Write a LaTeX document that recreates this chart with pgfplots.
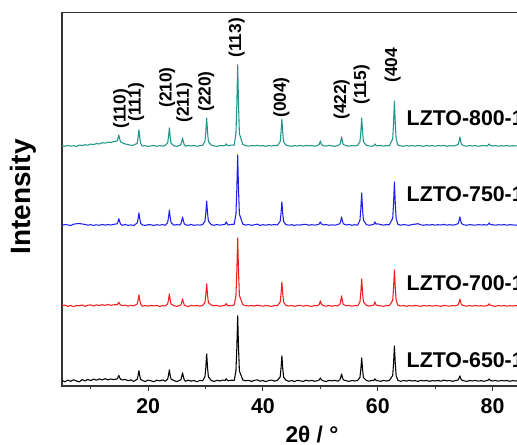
\documentclass[border=0pt]{standalone}
\usepackage{pgfplots}
\pgfplotsset{compat=1.18}
\usepackage{pgfplotstable}
\usepackage{fontspec}
\setmainfont{Liberation Sans}
\definecolor{xrdTeal}{HTML}{1F968C}
\definecolor{xrdBlue}{HTML}{1E1EF0}
\definecolor{xrdRed}{HTML}{F01E1E}
\definecolor{axisGray}{HTML}{333333}
\tikzset{
  hkl/.style={rotate=90,anchor=west,inner sep=0pt,font=\fontsize{13}{15}\selectfont\bfseries},
  lab/.style={anchor=base west,inner sep=0pt,font=\fontsize{16}{18}\selectfont\bfseries},
}

% relative intensities (px above each baseline): k=650, r=700, b=750, t=800
\pgfplotstableread{
x k r b t
5.0 0.5 0.3 -0.2 0.4
5.5 -0.8 0.9 0.4 -0.3
6.0 0.9 -0.4 0.1 0.6
6.5 -0.3 0.6 -0.5 -0.2
7.0 1.2 -0.7 0.8 0.3
7.5 0.1 0.5 1.2 -0.5
8.0 -0.9 0.2 1.5 0.9
8.5 1.4 1.0 1.0 0.4
9.0 0.2 -0.3 0.6 1.3
9.5 1.6 0.8 -0.2 0.8
10.0 0.4 1.1 0.3 1.9
10.5 1.9 0.0 -0.4 1.4
11.0 0.8 1.2 0.2 2.4
11.5 2.1 0.4 -0.3 2.0
12.0 1.0 1.3 0.5 3.3
12.5 2.3 0.6 -0.1 2.8
13.0 1.2 1.5 0.4 3.9
13.5 2.0 0.7 0.0 3.4
14.0 1.4 1.2 0.6 4.5
14.6 2.1 1.3 1.2 5.0
14.75 3.5 2.3 3.3 7.5
14.9 5.5 3.8 6.3 11.0
15.05 3.2 2.1 3.2 7.0
15.2 1.8 1.0 1.0 4.2
15.5 1.0 0.4 -0.3 3.2
16.0 1.6 0.9 0.5 2.0
16.5 0.3 -0.2 -0.4 1.5
17.0 1.1 0.7 0.2 0.6
17.5 -0.4 0.1 -0.6 0.9
18.1 1.8 2.0 2.1 2.7
18.25 5.3 5.8 6.2 8.3
18.4 10.3 11.2 12.1 16.2
18.55 5.0 5.6 6.0 8.0
18.7 1.6 1.9 1.8 2.5
19.0 0.6 -0.3 0.1 -0.2
19.5 -0.5 0.5 -0.4 0.4
20.0 0.9 -0.1 0.3 -0.5
20.5 0.2 0.6 0.2 0.1
21.0 -0.7 0.1 -0.5 0.5
21.5 0.8 0.7 0.3 -0.3
22.0 0.1 -0.5 -0.2 0.4
22.5 1.0 0.4 0.4 -0.1
23.0 -0.2 0.0 -0.3 0.6
23.4 1.8 2.0 2.4 2.9
23.55 5.7 6.2 7.6 9.2
23.7 11.2 12.1 15.0 18.1
23.85 5.4 5.9 7.4 8.8
24.0 1.9 1.9 2.3 2.6
24.5 0.4 0.3 -0.2 0.2
25.0 -0.6 -0.4 0.4 -0.4
25.5 0.7 0.5 -0.1 0.5
25.7 1.2 1.0 1.3 1.4
25.85 4.2 3.6 4.1 4.2
26.0 8.2 7.1 8.0 8.1
26.15 4.0 3.5 4.0 3.9
26.3 1.1 1.0 1.2 1.3
26.5 -0.3 0.2 0.3 -0.2
27.0 0.8 -0.5 -0.3 0.5
27.5 -0.1 0.6 0.5 0.0
28.0 0.5 0.1 -0.4 0.6
28.5 -0.8 0.7 0.2 -0.3
29.0 0.6 -0.2 -0.1 0.3
29.5 0.2 0.5 0.4 0.7
29.9 4.3 3.6 3.9 4.5
30.05 13.6 11.2 12.1 14.2
30.2 27.1 22.2 24.0 28.1
30.35 13.3 11.0 11.9 13.9
30.5 4.1 3.4 3.8 4.4
31.0 0.5 0.9 0.3 0.8
31.5 -0.4 0.2 -0.3 0.1
32.0 0.7 0.6 0.5 -0.4
32.5 0.0 -0.3 -0.2 0.5
33.0 0.9 0.4 0.3 0.2
33.4 0.5 0.6 0.6 0.4
33.6 2.3 2.4 3.2 2.2
33.8 0.7 0.8 0.9 0.6
34.0 0.2 0.2 0.0 0.3
34.5 0.8 0.5 0.6 0.9
35.0 0.6 0.9 0.8 1.0
35.3 10.3 10.8 11.0 12.7
35.45 33.0 34.5 35.5 41.0
35.6 65.2 68.1 70.2 81.3
35.75 32.6 34.0 35.1 40.4
35.9 10.0 10.5 10.8 12.3
36.5 1.0 1.2 0.8 1.4
37.0 0.2 0.4 -0.1 0.5
37.5 0.7 0.0 0.4 -0.2
38.0 -0.4 0.6 -0.3 0.4
38.5 0.6 -0.1 0.2 0.1
39.0 1.2 0.8 0.9 0.7
39.5 -0.2 0.3 -0.4 0.0
40.0 0.5 -0.2 0.3 0.4
40.5 -0.6 0.6 -0.2 -0.3
41.0 0.4 0.1 0.4 0.5
41.5 0.9 -0.4 -0.1 0.0
42.0 -0.1 0.5 0.5 0.6
42.5 0.6 0.2 0.0 0.2
43.0 4.0 3.8 3.6 4.3
43.15 12.7 12.2 11.6 13.7
43.3 25.1 24.0 23.2 27.0
43.45 12.4 12.0 11.4 13.4
43.6 3.9 3.7 3.5 4.1
44.0 0.8 0.6 0.4 0.9
44.5 -0.3 0.0 -0.2 0.2
45.0 0.5 0.5 0.3 -0.3
45.5 -0.5 -0.3 -0.4 0.4
46.0 0.7 0.4 0.2 0.0
46.5 0.1 0.7 -0.1 0.6
47.0 -0.4 -0.2 0.5 -0.2
47.5 0.8 0.6 0.7 0.5
48.0 0.0 0.1 -0.3 0.1
48.5 0.6 -0.4 0.3 0.5
49.0 -0.3 0.5 -0.2 -0.3
49.5 0.4 0.2 0.4 0.4
49.8 1.0 1.5 0.9 1.6
50.0 3.1 5.1 3.0 5.0
50.2 1.1 1.6 1.0 1.5
50.5 0.2 0.4 0.1 0.3
51.0 -0.5 -0.2 0.4 -0.1
51.5 0.6 0.6 -0.3 0.6
52.0 0.1 -0.3 0.2 0.2
52.5 0.7 0.5 -0.2 -0.4
53.0 -0.2 0.1 0.5 0.5
53.4 1.2 1.6 1.3 1.5
53.55 3.6 5.1 4.1 4.6
53.7 7.0 10.1 8.0 9.1
53.85 3.5 4.9 4.0 4.4
54.0 1.1 1.5 1.2 1.4
54.5 0.3 0.2 0.0 0.4
55.0 -0.4 0.6 0.5 -0.2
55.5 0.5 -0.2 -0.3 0.5
56.0 0.0 0.4 0.3 0.1
56.5 0.6 0.1 -0.2 0.6
56.9 3.6 4.2 4.9 4.4
57.05 11.7 13.6 16.1 14.2
57.2 23.1 27.0 32.1 28.0
57.35 11.4 13.4 15.8 13.9
57.5 3.5 4.1 4.8 4.3
58.0 0.5 0.7 0.4 0.6
58.5 -0.2 -0.1 -0.3 0.0
59.0 0.6 0.5 0.3 -0.3
59.3 0.5 0.9 0.7 0.4
59.5 2.2 4.1 3.1 2.1
59.7 0.6 1.0 0.8 0.5
60.0 0.3 0.6 1.2 0.2
60.5 -0.3 0.1 0.4 0.5
61.0 0.6 -0.3 -0.2 -0.2
61.5 0.0 0.5 0.5 0.4
62.0 0.5 0.2 0.1 0.1
62.6 5.5 5.6 6.7 7.0
62.75 17.8 18.2 21.7 22.7
62.9 35.1 36.2 43.1 45.0
63.05 17.4 17.9 21.4 22.4
63.2 5.3 5.5 6.5 6.9
63.5 0.6 0.8 0.7 0.9
64.0 -0.3 0.0 -0.2 0.1
64.5 0.5 0.5 0.4 -0.3
65.0 -0.1 -0.3 0.0 0.5
65.5 0.7 0.4 -0.3 0.0
66.0 0.0 0.0 0.5 0.4
66.5 0.4 0.6 0.8 -0.2
67.0 -0.4 0.2 1.3 0.6
67.5 0.6 -0.3 0.2 0.1
68.0 0.1 0.5 -0.3 -0.3
68.5 0.5 0.0 0.3 0.5
69.0 -0.3 0.4 -0.1 0.0
69.5 0.4 -0.2 0.4 0.4
70.0 0.0 0.5 -0.2 -0.2
70.5 0.6 0.1 0.3 0.5
71.0 -0.2 -0.3 0.0 0.1
71.5 0.9 0.6 0.6 0.7
72.0 0.1 0.2 -0.2 -0.3
72.5 0.5 -0.2 0.3 0.3
73.0 -0.3 0.4 -0.1 0.0
73.5 0.4 0.1 0.3 0.4
74.0 1.0 1.2 1.4 1.5
74.15 2.7 3.6 4.1 4.6
74.3 5.2 7.0 8.1 9.0
74.45 2.6 3.5 4.0 4.5
74.6 1.0 1.1 1.3 1.4
75.0 0.2 0.3 0.2 0.3
75.5 -0.4 -0.2 -0.3 -0.2
76.0 0.5 0.4 0.4 0.5
76.5 0.0 -0.1 0.0 0.0
77.0 0.6 0.5 -0.2 0.4
77.5 -0.2 0.0 0.4 -0.3
78.0 0.4 0.3 0.0 0.2
78.5 -0.3 -0.2 0.3 0.4
79.0 0.5 0.4 -0.1 -0.1
79.2 0.7 0.6 0.6 0.7
79.4 2.1 2.2 2.0 2.1
79.6 0.6 0.7 0.5 0.6
80.0 0.0 0.1 0.2 0.0
80.5 0.5 -0.3 -0.2 0.4
81.0 -0.2 0.4 0.3 -0.2
81.5 0.6 0.0 0.0 0.3
82.0 0.1 0.5 0.4 0.0
82.5 0.5 -0.2 -0.2 0.5
83.0 -0.3 0.3 0.3 -0.1
83.5 0.4 0.0 0.1 0.3
84.0 0.0 0.4 -0.2 0.0
84.5 0.5 -0.1 0.3 0.4
85.0 -0.2 0.3 0.0 -0.2
85.5 0.3 0.0 0.2 0.3
86.0 0.0 0.2 0.0 0.1
}\xrd

\begin{document}
\begin{tikzpicture}
\path[use as bounding box] (0,0) rectangle (387.75pt,333.75pt);
\clip (0,0) rectangle (387.75pt,333.75pt);
\begin{axis}[
  at={(46.5pt,44.25pt)},anchor=south west,
  scale only axis,width=366pt,height=280.125pt,
  xmin=5,xmax=90,ymin=0,ymax=373.5,
  axis line style={axisGray,line width=0.9pt},
  xtick={20,40,60,80},minor xtick={10,30,50,70,90},
  ytick=\empty,xtick pos=left,tick align=outside,
  major tick length=4pt,minor tick length=2.5pt,
  tick style={axisGray,line width=0.8pt},
  /pgf/number format/assume math mode=true,
  xticklabel style={font=\fontsize{16}{18}\selectfont\bfseries,yshift=-2pt},
  every axis plot/.append style={line width=0.8pt,line join=round},
]
\addplot[black] table[x=x,y expr=\thisrow{k}+5] {\xrd};
\addplot[xrdRed] table[x=x,y expr=\thisrow{r}+80] {\xrd};
\addplot[xrdBlue] table[x=x,y expr=\thisrow{b}+161] {\xrd};
\addplot[xrdTeal] table[x=x,y expr=\thisrow{t}+240] {\xrd};

\node[hkl] at (axis cs:15.3,257) {(110)};
\node[hkl] at (axis cs:17.9,264) {(111)};
\node[hkl] at (axis cs:23.3,278) {(210)};
\node[hkl] at (axis cs:26.3,263) {(211)};
\node[hkl] at (axis cs:30.1,274) {(220)};
\node[hkl] at (axis cs:35.4,328) {(113)};
\node[hkl] at (axis cs:43.2,268) {(004)};
\node[hkl] at (axis cs:53.7,266) {(422)};
\node[hkl] at (axis cs:57.2,281) {(115)};
\node[hkl] at (axis cs:62.6,303) {(404};

\node[lab] at (axis cs:65.0,260) {LZTO-800-1h};
\node[lab] at (axis cs:65.0,184) {LZTO-750-1h};
\node[lab] at (axis cs:65.0,95) {LZTO-700-1h};
\node[lab] at (axis cs:65.0,18) {LZTO-650-1h};
\end{axis}
\node[rotate=90,font=\fontsize{21}{24}\selectfont\bfseries] at (17.25pt,186pt) {Intensity};
\node[font=\fontsize{17}{19}\selectfont\bfseries] at (234pt,7.5pt) {2θ / °};
\end{tikzpicture}
\end{document}
